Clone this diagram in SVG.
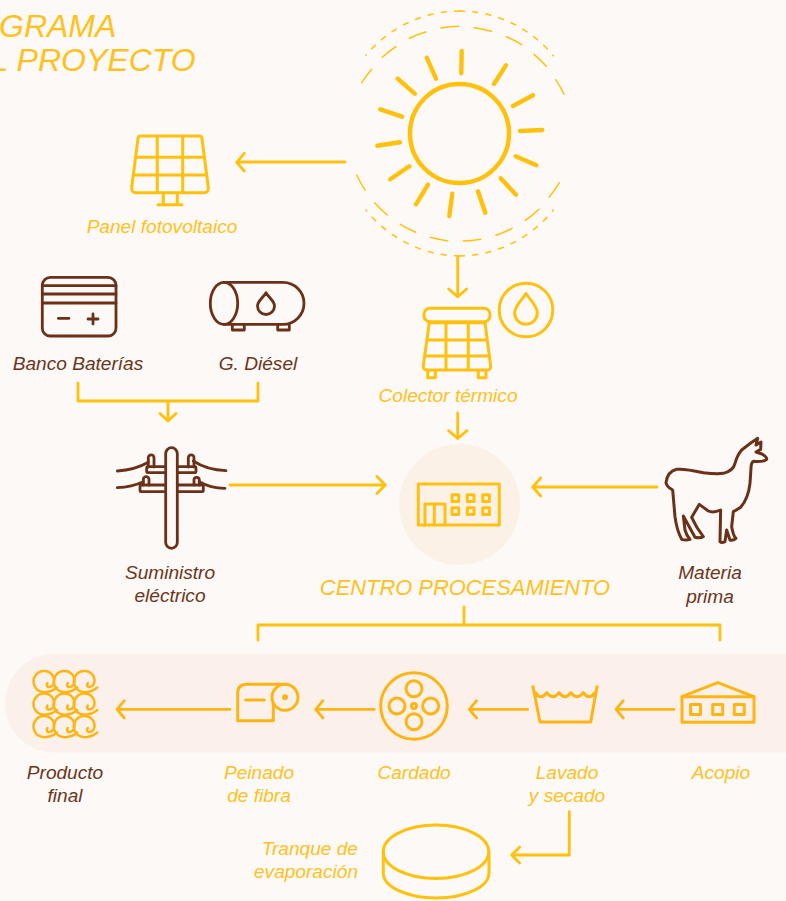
<svg xmlns="http://www.w3.org/2000/svg" width="786" height="901" viewBox="0 0 786 901">
<defs>
<style>
text{font-family:"Liberation Sans",Arial,sans-serif;font-style:italic;font-size:19.100px}
.y{fill:#ffc11e}.b{fill:#6b3520}.m{text-anchor:middle}.e{text-anchor:end}
.t{font-size:32px}
.sy,.sb,.sa,.c{fill:none;stroke-linecap:round;stroke-linejoin:round}
.sy{stroke:#ffc10e;stroke-width:3}
.sa{stroke:#fdb515;stroke-width:3}
.sb{stroke:#6b3018;stroke-width:2.800}
.c{stroke:#ffc10e;stroke-width:2.800}
.ca{stroke:#fdb515}
</style>
<path id="curl" d="M13,6C8,10 3,11 -1,10.500A10.500,10.500 0 1 1 9.500,-4.500C11.500,1 9,6 4,5.500C2.500,4.500 2.500,3 3.500,1.500"/>
</defs>
<rect width="786" height="901" fill="#fdf9f6"/>
<rect x="5" y="654" width="830" height="98.500" rx="49" fill="#fcf1ea"/>

<g id="title">
<text class="y t" x="-1" y="36.500">GRAMA</text>
<text class="y t" x="-9.500" y="70.700">L PROYECTO</text>
</g>

<g id="sun">
<circle cx="459.500" cy="133.500" r="49.500" fill="none" stroke="#ffc10e" stroke-width="4.500"/>
<path fill="none" stroke="#ffc10e" stroke-width="4.400" stroke-linecap="round" d="M461.700,51L461.300,73.300M506,65.300L494,84M533,95.300L513,106M542.300,130L520,131M536.300,165.300L515.700,156.300M516,194.700L500.700,178.300M485.300,212.700L478,191.300M449.300,216L452.300,193.700M416,204.300L428,184.700M390.300,179.300L409.300,166.300M377.300,145.700L400,142.300M380.300,109.300L402,116.700M397.700,78.700L414.700,93.700M426.700,57.700L436,78.700"/>
<g fill="none" stroke="#ffc10e" stroke-width="1.500" stroke-linecap="round">
<path d="M459.500,11A122.500,122.500 0 0 0 366,55.300" stroke-dasharray="5 8.300"/>
<path d="M459.500,11A122.500,122.500 0 0 1 553.300,55.700" stroke-dasharray="5 8.300"/>
<path d="M459.500,256A122.500,122.500 0 0 1 366,210" stroke-dasharray="5 8.300"/>
<path d="M459.500,256A122.500,122.500 0 0 0 553.300,210" stroke-dasharray="5 8.300"/>
<path d="M361.700,82.700A110,110 0 0 1 371.700,69.300M382.300,57.300A110,110 0 0 1 396,46.700M409.300,38.300A110,110 0 0 1 425.700,32M441,28A110,110 0 0 1 458.700,26.300M474.300,27.700A110,110 0 0 1 491.300,31.300M506.300,36.700A110,110 0 0 1 521.700,44.700M534,54.300A110,110 0 0 1 546.300,66.300M555.700,79.700A110,110 0 0 1 564,94.300"/>
<path d="M356.700,175A110,110 0 0 0 365.300,190.300M374.700,202.700A110,110 0 0 0 387.300,215M400.300,224.300A110,110 0 0 0 415.700,232.300M430.300,237.300A110,110 0 0 0 447.700,240.700M463.300,241A110,110 0 0 0 480.700,239.300M496,235.300A110,110 0 0 0 512,228.300M525.300,220.300A110,110 0 0 0 539,209.300M549.300,197A110,110 0 0 0 559.300,182.700"/>
</g>
</g>

<g id="panel-fotovoltaico">
<path class="sy" d="M140.500,136H199.500Q201.700,136 202,138.500L208.300,187.500Q208.800,192.700 204,192.700H136Q131.200,192.700 131.700,187.500L138,138.500Q138.300,136 140.500,136ZM157.300,136V192.700M182.700,136V192.700M135.500,157.300H204.500M133.500,175H206.500M163.300,193V204.700M177.300,193V204.700M158,204.700H182"/>
<text class="y m" x="162" y="233">Panel fotovoltaico</text>
</g>

<g id="banco-baterias">
<rect class="sb" x="42.300" y="277.300" width="73.700" height="58.700" rx="8"/>
<path class="sb" d="M42.300,285.700H116M42.300,294H116M42.300,303H116M58.300,318.300H69M88,319H98M93,314V324"/>
<text class="b m" x="78" y="370">Banco Baterías</text>
</g>

<g id="g-diesel">
<ellipse class="sb" cx="224" cy="303.300" rx="13.700" ry="21"/>
<path class="sb" d="M224,282.300H283A21,21 0 0 1 283,324.300H224M232.300,324.500V330H244.300V324.500M277.700,324.500V330H289.300V324.500M266,292.700C263,298 257.500,301 257.500,306A8.500,8.500 0 0 0 274.500,306C274.500,301 269,298 266,292.700Z"/>
<text class="b m" x="258" y="370">G. Diésel</text>
</g>

<g id="suministro">
<path class="sb" d="M117.300,471Q135,470 148.300,462.300M193.300,461Q207,470 226,470.700M117.300,487.700Q132,487 143.300,481.700M199.300,481.700Q210,488 225,488.300"/>
<rect class="sb" x="146.700" y="466.700" width="49.300" height="6" rx="1"/>
<rect class="sb" x="140" y="485" width="63.300" height="6.700" rx="1"/>
<path class="sb" d="M148.300,467V457.800A2.850,2.850 0 0 1 154,457.800V467M188.300,467V457.800A2.850,2.850 0 0 1 194,457.800V467M143.300,485V479.500A2.850,2.850 0 0 1 149,479.500V485M194,485V479.500A2.700,2.700 0 0 1 199.300,479.500V485"/>
<rect class="sb" x="165.700" y="447.700" width="11.600" height="100.600" rx="5.800" style="fill:#fdf9f6"/>
<text class="b m" x="170" y="579">Suministro</text>
<text class="b m" x="170" y="602">eléctrico</text>
</g>

<g id="colector-termico">
<rect class="sy" x="424" y="308.300" width="66" height="13.400" rx="6"/>
<path class="sy" d="M429.300,322.700H485L490.700,366Q491,370 487,370H427Q423,370 423.300,366ZM446,322.700V370M468.300,322.700V370M427.500,340H487M425.500,356H489M427.700,370.700V377.700H435.300V370.700M478.300,370.700V377.700H486V370.700"/>
<circle class="sy" cx="526" cy="310" r="26.800"/>
<path class="sy" d="M526,293.500C521,301 514.700,306 514.700,313A11.300,11.300 0 0 0 537.300,313C537.300,306 531,301 526,293.500Z"/>
<text class="y m" x="448" y="402">Colector térmico</text>
</g>

<g id="centro-procesamiento">
<circle cx="459.500" cy="504.500" r="60.500" fill="#fcf1e7"/>
<rect class="sy" x="418.300" y="484" width="81" height="41"/>
<path class="sy" d="M425,525V504H445V525M434.300,504V525"/>
<g class="sy">
<rect x="452" y="494.700" width="6.700" height="6.700"/><rect x="467.300" y="494.700" width="6.700" height="6.700"/><rect x="482.700" y="494.700" width="6.700" height="6.700"/>
<rect x="452" y="507.700" width="6.700" height="6.700"/><rect x="467.300" y="507.700" width="6.700" height="6.700"/><rect x="482.700" y="507.700" width="6.700" height="6.700"/>
</g>
<text class="y m" x="465" y="595" style="font-size:21.900px">CENTRO PROCESAMIENTO</text>
</g>

<g id="materia-prima">
<path transform="translate(650,430) scale(.3333)" fill="none" stroke="#6b3018" stroke-width="9" stroke-linejoin="round" stroke-linecap="round" d="M323,25L318,45L333,36L332,58L318,66L336,72Q352,82 350,88Q340,97 310,94Q303,98 303,115L300,160Q295,205 272,232Q260,240 250,245L245,290Q250,318 258,325Q250,332 240,330L230,300L225,335Q215,340 210,335L212,240Q190,250 175,243Q160,232 148,223L125,262Q140,295 160,320Q150,326 135,322L100,258L105,300Q110,318 120,328Q108,332 95,328Q80,300 75,260L68,180Q50,170 48,158Q52,125 80,118Q100,115 160,128Q200,133 220,130Q250,122 255,100Q262,75 275,60Q300,40 323,25Z"/>
<text class="b m" x="710" y="579">Materia</text>
<text class="b m" x="710" y="603">prima</text>
</g>

<g id="acopio">
<rect class="sa" x="682" y="696.700" width="72" height="25.600"/>
<path class="sa" d="M682,696.700L717.700,682.700L754,696.700"/>
<rect class="sa" x="690.500" y="704.500" width="10" height="10"/><rect class="sa" x="712.700" y="704.500" width="10" height="10"/><rect class="sa" x="734.300" y="704.500" width="10" height="10"/>
<text class="y m" x="721" y="779">Acopio</text>
</g>

<g id="lavado">
<path class="sa" d="M533,686.700L540,722H590.700L597,686.700M535.700,692.700Q541,701 546.700,692.700Q553,701 559,692.700Q565,701 570.700,692.700Q577,701 583.300,692.700Q589,701 595,692.700"/>
<text class="y m" x="567" y="779">Lavado</text>
<text class="y m" x="567" y="802">y secado</text>
</g>

<g id="cardado">
<circle class="sa" cx="414" cy="706" r="33.300"/>
<circle class="sa" cx="414" cy="688.700" r="8"/><circle class="sa" cx="414" cy="721.700" r="8"/><circle class="sa" cx="397" cy="706" r="8"/><circle class="sa" cx="430.700" cy="706" r="8"/><circle class="sa" cx="414" cy="706" r="2.500"/>
<text class="y m" x="414" y="779">Cardado</text>
</g>

<g id="peinado">
<circle class="sa" cx="285" cy="697.300" r="13"/>
<circle cx="285" cy="697.300" r="3" fill="#fdb515"/>
<path class="sa" d="M273.300,703V720.700H237.700V693.300Q237.700,684.300 246.700,684.300H285M245.700,700H264.300"/>
<text class="y m" x="259" y="779">Peinado</text>
<text class="y m" x="259" y="802">de fibra</text>
</g>

<g id="producto-final">
<g class="sa" style="stroke-width:2.500">
<use href="#curl" x="44" y="681.500"/><use href="#curl" x="64.300" y="681.500"/><use href="#curl" x="84.300" y="681.500"/>
<use href="#curl" x="44" y="704"/><use href="#curl" x="64.300" y="704"/><use href="#curl" x="84.300" y="704"/>
<use href="#curl" x="44" y="726.500"/><use href="#curl" x="64.300" y="726.500"/><use href="#curl" x="84.300" y="726.500"/>
</g>
<text class="b m" x="65" y="779">Producto</text>
<text class="b m" x="65" y="802">final</text>
</g>

<g id="tranque">
<ellipse class="sy" cx="436" cy="851.700" rx="52.700" ry="26.700"/>
<path class="sy" d="M383.300,851.700V873A52.700,25 0 0 0 489,873V851.700"/>
<text class="y e" x="358" y="855">Tranque de</text>
<text class="y e" x="358" y="878">evaporación</text>
</g>

<g id="connectors">
<path class="c" d="M345,162H237M244.300,153.300L236.700,162.300L244.300,171"/>
<path class="c" d="M457.700,257V296.500M448.700,289L457.700,296.700L466.700,289"/>
<path class="c" d="M457.700,413V438.300M448.500,430.700L457.700,438.300L467,430.700"/>
<path class="c" d="M78,383V401H258V383M168,401V421M160,413.500L168,421L176,413.500"/>
<path class="c" d="M230,485H385M377,476.500L385.300,485L377,493.500"/>
<path class="c" d="M657,487H533M540.700,478L532.700,487L540.700,496"/>
<path class="c" d="M258,640V625H720V640M464,607V625"/>
<path class="c ca" d="M674,709.300H616M623.300,700.700L616,709.300L623.300,718"/>
<path class="c ca" d="M527.700,709.300H469.300M476.600,700.700L469.300,709.300L476.600,718"/>
<path class="c ca" d="M374.300,709.300H315.700M323,700.700L315.700,709.300L323,718"/>
<path class="c ca" d="M230,709.300H117M124.300,700.700L117,709.300L124.300,718"/>
<path class="c" d="M569.300,811.700V855H511.700M519.700,847L511.700,855L519.700,863"/>
</g>
</svg>
